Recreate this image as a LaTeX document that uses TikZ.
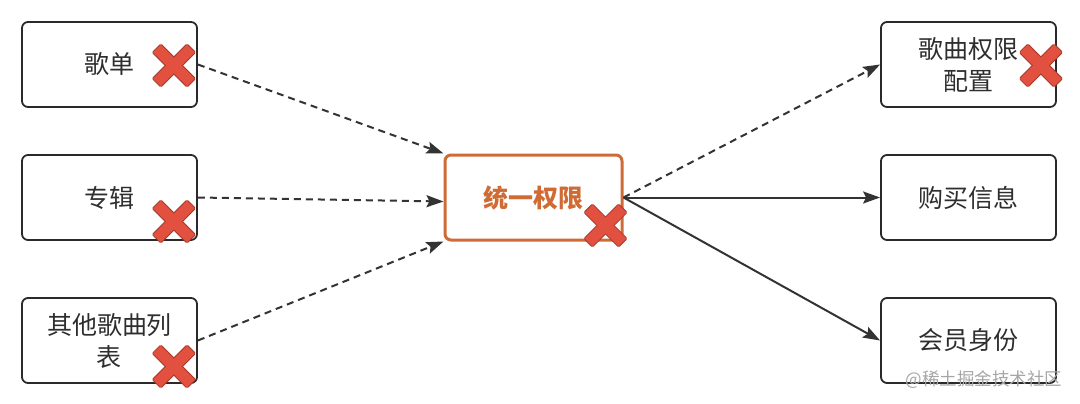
\documentclass[tikz,border=0pt]{standalone}
\usepackage{fontspec}
\setmainfont{Noto Sans CJK SC}
\usetikzlibrary{positioning,arrows.meta,calc}
\definecolor{boxline}{HTML}{2A2A2A}
\definecolor{orangeline}{HTML}{CF6C35}
\definecolor{crossred}{HTML}{E2503F}
\definecolor{crossdark}{HTML}{A53A2C}
\begin{document}
\begin{tikzpicture}[x=1pt,y=-1pt,node distance=133pt and 424pt,on grid,font=\fontsize{25}{32}\selectfont]

  \tikzset{
    box/.style={draw=boxline,line width=1.8pt,rounded corners=6pt,minimum width=175pt,minimum height=85pt,align=center,text=black!82},
    mainbox/.style={box,draw=orangeline,line width=3pt,text=orangeline,minimum width=177pt},
    dasharrow/.style={-{Stealth[length=17pt,width=12pt,inset=3pt]},draw=black!80,line width=2pt,dash pattern=on 7pt off 5pt},
    solidarrow/.style={-{Stealth[length=17pt,width=12pt,inset=3pt]},draw=black!80,line width=2pt},
    redx/.pic={
      \foreach \ang in {45,-45}
        \draw[rotate=\ang,crossdark,line width=2pt,rounded corners=1pt] (-24pt,-5.5pt) rectangle (24pt,5.5pt);
      \foreach \ang in {45,-45}
        \fill[rotate=\ang,crossred] (-24pt,-5.5pt) rectangle (24pt,5.5pt);
    },
  }

   \useasboundingbox (0,0) rectangle (1080,404);

   % LEFT

   \node[box] (gedan) at (109.5,64.5) {歌单};
   \node[box] (zhuanji) [below=of gedan] {专辑};
   \node[box] (qita) [below=143pt of zhuanji] {其他歌曲列\\表};

   % MIDDLE

   \node[mainbox] (tongyi) [right=of zhuanji] {\bfseries 统一权限};

   % RIGHT

   \node[box] (goumai) [right=435pt of tongyi] {购买信息};
   \node[box] (peizhi) [above=of goumai] {歌曲权限\\配置};
   \node[box] (huiyuan) [below=143pt of goumai] {会员身份};

   \draw[dasharrow] (gedan.east) -- (tongyi.north west);
   \draw[dasharrow] (zhuanji.east) -- ($(tongyi.west)+(0,4)$);
   \draw[dasharrow] (qita.east) -- (tongyi.south west);

   \draw[dasharrow] (tongyi.east) -- (peizhi.west);
   \draw[solidarrow] (tongyi.east) -- (goumai.west);
   \draw[solidarrow] (tongyi.east) -- (huiyuan.west);

   \pic at ($(gedan.east)+(-24,1)$) {redx};
   \pic at ($(zhuanji.east)+(-24,24)$) {redx};
   \pic at ($(qita.east)+(-24,26)$) {redx};
   \pic at ($(tongyi.east)+(-18,28)$) {redx};
   \pic at ($(peizhi.east)+(-16,1)$) {redx};

   \node[text=black!35,font=\fontsize{17.5}{20}\selectfont,anchor=east] (mark) at (1066,380) {@稀土掘金技术社区};
\end{tikzpicture}
\end{document}
